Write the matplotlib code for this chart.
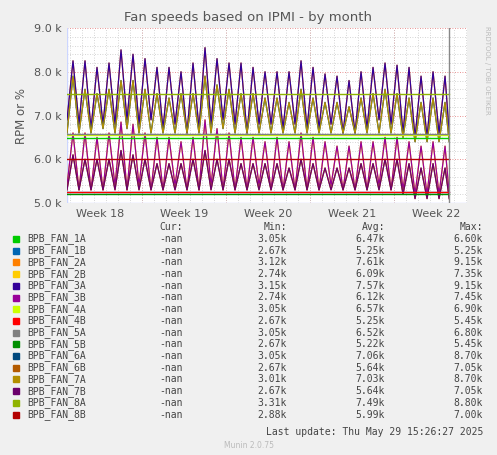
import numpy as np
import matplotlib.pyplot as plt
from matplotlib.ticker import MultipleLocator, FuncFormatter

# daily peaks / troughs (k RPM)
hi_peak = [8.25, 8.25, 8.1, 8.2, 8.5, 8.4, 8.3, 8.1, 8.1, 8.0, 8.2, 8.55, 8.3, 8.2, 8.2, 8.1,
           8.0, 8.0, 8.0, 8.25, 8.1, 7.95, 7.9, 7.8, 8.0, 8.1, 8.2, 8.15, 8.1, 7.9, 8.0, 7.9]
hi_low = [6.9, 6.8, 6.7, 6.8, 6.8, 6.9, 6.8, 6.9, 6.7, 6.8, 6.6, 6.7, 6.8, 6.9, 6.8, 6.6,
          6.8, 6.8, 6.7, 6.8, 6.7, 6.7, 6.8, 6.6, 6.6, 6.7, 6.9, 6.8, 6.6, 6.5, 6.5, 6.6]
mid_peak = [7.9, 7.6, 7.5, 7.6, 7.8, 7.8, 7.6, 7.5, 7.4, 7.5, 7.5, 7.9, 7.7, 7.6, 7.5, 7.5,
            7.4, 7.4, 7.3, 7.6, 7.4, 7.3, 7.3, 7.2, 7.4, 7.5, 7.6, 7.5, 7.4, 7.3, 7.4, 7.3]
mid_low = [6.6, 6.6, 6.6, 6.7, 6.6, 6.7, 6.6, 6.6, 6.6, 6.6, 6.6, 6.6, 6.6, 6.7, 6.6, 6.6,
           6.6, 6.6, 6.6, 6.6, 6.6, 6.6, 6.6, 6.6, 6.6, 6.6, 6.6, 6.6, 6.5, 6.4, 6.4, 6.4]
b_peak = [6.6, 6.6, 6.5, 6.6, 6.85, 6.8, 6.6, 6.5, 6.5, 6.4, 6.5, 6.9, 6.7, 6.6, 6.5, 6.5,
          6.4, 6.5, 6.4, 6.6, 6.5, 6.4, 6.3, 6.3, 6.4, 6.4, 6.5, 6.5, 6.4, 6.3, 6.4, 6.3]
b_low = [5.4, 5.3, 5.3, 5.3, 5.4, 5.3, 5.4, 5.3, 5.3, 5.4, 5.3, 5.3, 5.4, 5.3, 5.3, 5.3,
         5.4, 5.3, 5.3, 5.3, 5.3, 5.3, 5.4, 5.3, 5.3, 5.3, 5.4, 5.3, 5.3, 5.2, 5.2, 5.2]
c_peak = [6.1, 6.0, 6.0, 6.0, 6.2, 6.1, 6.0, 5.9, 5.9, 5.9, 6.0, 6.2, 6.0, 6.0, 5.9, 5.9,
          5.9, 5.9, 5.8, 6.0, 5.9, 5.8, 5.8, 5.8, 5.9, 5.9, 6.0, 6.0, 5.9, 5.8, 5.9, 5.8]
c_low = [5.3, 5.3, 5.3, 5.3, 5.3, 5.3, 5.3, 5.3, 5.3, 5.3, 5.3, 5.3, 5.3, 5.3, 5.3, 5.3,
         5.3, 5.3, 5.3, 5.3, 5.3, 5.3, 5.3, 5.3, 5.3, 5.3, 5.3, 5.3, 5.2, 5.1, 5.1, 5.1]

flat = {"BPB_FAN_1A": 6.48, "BPB_FAN_1B": 5.25, "BPB_FAN_4A": 6.56, "BPB_FAN_4B": 5.25,
        "BPB_FAN_5A": 6.58, "BPB_FAN_5B": 5.2, "BPB_FAN_8A": 7.5, "BPB_FAN_8B": 6.0}
wave = {"BPB_FAN_2A": (hi_peak, hi_low), "BPB_FAN_3A": (hi_peak, hi_low),
        "BPB_FAN_6A": (mid_peak, mid_low), "BPB_FAN_7A": (mid_peak, mid_low),
        "BPB_FAN_2B": (b_peak, b_low), "BPB_FAN_3B": (b_peak, b_low),
        "BPB_FAN_6B": (c_peak, c_low), "BPB_FAN_7B": (c_peak, c_low)}

names = ["BPB_FAN_1A", "BPB_FAN_1B", "BPB_FAN_2A", "BPB_FAN_2B", "BPB_FAN_3A", "BPB_FAN_3B",
         "BPB_FAN_4A", "BPB_FAN_4B", "BPB_FAN_5A", "BPB_FAN_5B", "BPB_FAN_6A", "BPB_FAN_6B",
         "BPB_FAN_7A", "BPB_FAN_7B", "BPB_FAN_8A", "BPB_FAN_8B"]
colors = ["#00cc00", "#0066b3", "#ff8000", "#ffcc00", "#330099", "#990099", "#ccff00", "#ff0000",
          "#808080", "#008f00", "#00487d", "#b35a00", "#b38f00", "#6b006b", "#8fb300", "#b30000"]
mins = ["3.05k", "2.67k", "3.12k", "2.74k", "3.15k", "2.74k", "3.05k", "2.67k",
        "3.05k", "2.67k", "3.05k", "2.67k", "3.01k", "2.67k", "3.31k", "2.88k"]
avgs = ["6.47k", "5.25k", "7.61k", "6.09k", "7.57k", "6.12k", "6.57k", "5.25k",
        "6.52k", "5.22k", "7.06k", "5.64k", "7.03k", "5.64k", "7.49k", "5.99k"]
maxs = ["6.60k", "5.25k", "9.15k", "7.35k", "9.15k", "7.45k", "6.90k", "5.45k",
        "6.80k", "5.45k", "8.70k", "7.05k", "8.70k", "7.05k", "8.80k", "7.00k"]
week_labels = ["Week 18", "Week 19", "Week 20", "Week 21", "Week 22"]

fig = plt.figure(figsize=(4.97, 4.55), dpi=100, facecolor="#f0f0f0")
ax = fig.add_axes([67 / 497, 252 / 455, 400 / 497, 175 / 455])
ax.set_facecolor("white")

days = np.arange(len(hi_peak))
t = np.empty(2 * len(days) + 1)
t[0:-1:2] = days + 0.75
t[1::2] = days + 1.25
t[-1] = 32.6
for n, c in zip(names, colors):
    if n in wave:
        pk, lo = wave[n]
        y = np.empty(len(t))
        y[0:-1:2] = lo
        y[1::2] = pk
        y[-1] = lo[-1]
        ax.plot(t, y, color=c, lw=0.9, zorder=3)
    else:
        ax.plot([0.75, 32.6], [flat[n]] * 2, color=c, lw=1.0, zorder=4)

ax.set_xlim(0.75, 34.08)
ax.set_ylim(5.0, 9.0)
ax.axvline(32.6, color="#888888", lw=1, zorder=5)
ax.yaxis.set_major_locator(MultipleLocator(1.0))
ax.yaxis.set_minor_locator(MultipleLocator(0.2))
ax.yaxis.set_major_formatter(FuncFormatter(lambda v, p: f"{v:.1f} k"))
ax.xaxis.set_minor_locator(MultipleLocator(1))
ax.set_xticks([3.5 + 7 * i for i in range(5)], week_labels, minor=False)
ax.grid(which="minor", color="#c8c8c8", ls=(0, (1, 2)), lw=0.6)
for w in range(1, 5):
    ax.axvline(7 * w, color="#e07070", ls=(0, (1, 2)), lw=0.6, zorder=1)
for v in range(6, 10):
    ax.axhline(v, color="#e07070", ls=(0, (1, 2)), lw=0.6, zorder=1)
ax.tick_params(which="both", length=0, labelsize=8, colors="#555555", pad=4)
for s in ax.spines.values():
    s.set_visible(False)
ax.axhline(5.0, color="#ccd6ff", lw=1, zorder=2)
ax.axvline(0.75, color="#ccd6ff", lw=1, zorder=2)
ax.set_ylabel("RPM or %", fontsize=8.5, color="#555555")
fig.text(0.5, 1 - 18 / 455, "Fan speeds based on IPMI - by month", ha="center", va="center",
         fontsize=9.5, color="#555555")
fig.text(487 / 497, 1 - 70 / 455, "RRDTOOL / TOBI OETIKER", rotation=270, ha="center",
         va="center", fontsize=5, color="#bbbbbb")

mono = dict(family="DejaVu Sans Mono", fontsize=7, color="#444444")
top = 227
fig.text(183 / 497, 1 - top / 455, "Cur:", ha="right", va="center", **mono)
fig.text(287 / 497, 1 - top / 455, "Min:", ha="right", va="center", **mono)
fig.text(385 / 497, 1 - top / 455, "Avg:", ha="right", va="center", **mono)
fig.text(483 / 497, 1 - top / 455, "Max:", ha="right", va="center", **mono)
for i, n in enumerate(names):
    yy = 1 - (239 + i * 11.7) / 455
    fig.patches.append(plt.Rectangle((13 / 497, yy - 3 / 455), 6 / 497, 6 / 455,
                                     transform=fig.transFigure, color=colors[i]))
    fig.text(27 / 497, yy, n, ha="left", va="center", **mono)
    fig.text(183 / 497, yy, "-nan", ha="right", va="center", **mono)
    fig.text(287 / 497, yy, mins[i], ha="right", va="center", **mono)
    fig.text(385 / 497, yy, avgs[i], ha="right", va="center", **mono)
    fig.text(483 / 497, yy, maxs[i], ha="right", va="center", **mono)
fig.text(483 / 497, 1 - 432 / 455, "Last update: Thu May 29 15:26:27 2025", ha="right",
         va="center", **mono)
fig.text(0.5, 1 - 446 / 455, "Munin 2.0.75", ha="center", va="center", fontsize=5.5,
         color="#bbbbbb")

fig.savefig("out.png", dpi=100, facecolor=fig.get_facecolor())
